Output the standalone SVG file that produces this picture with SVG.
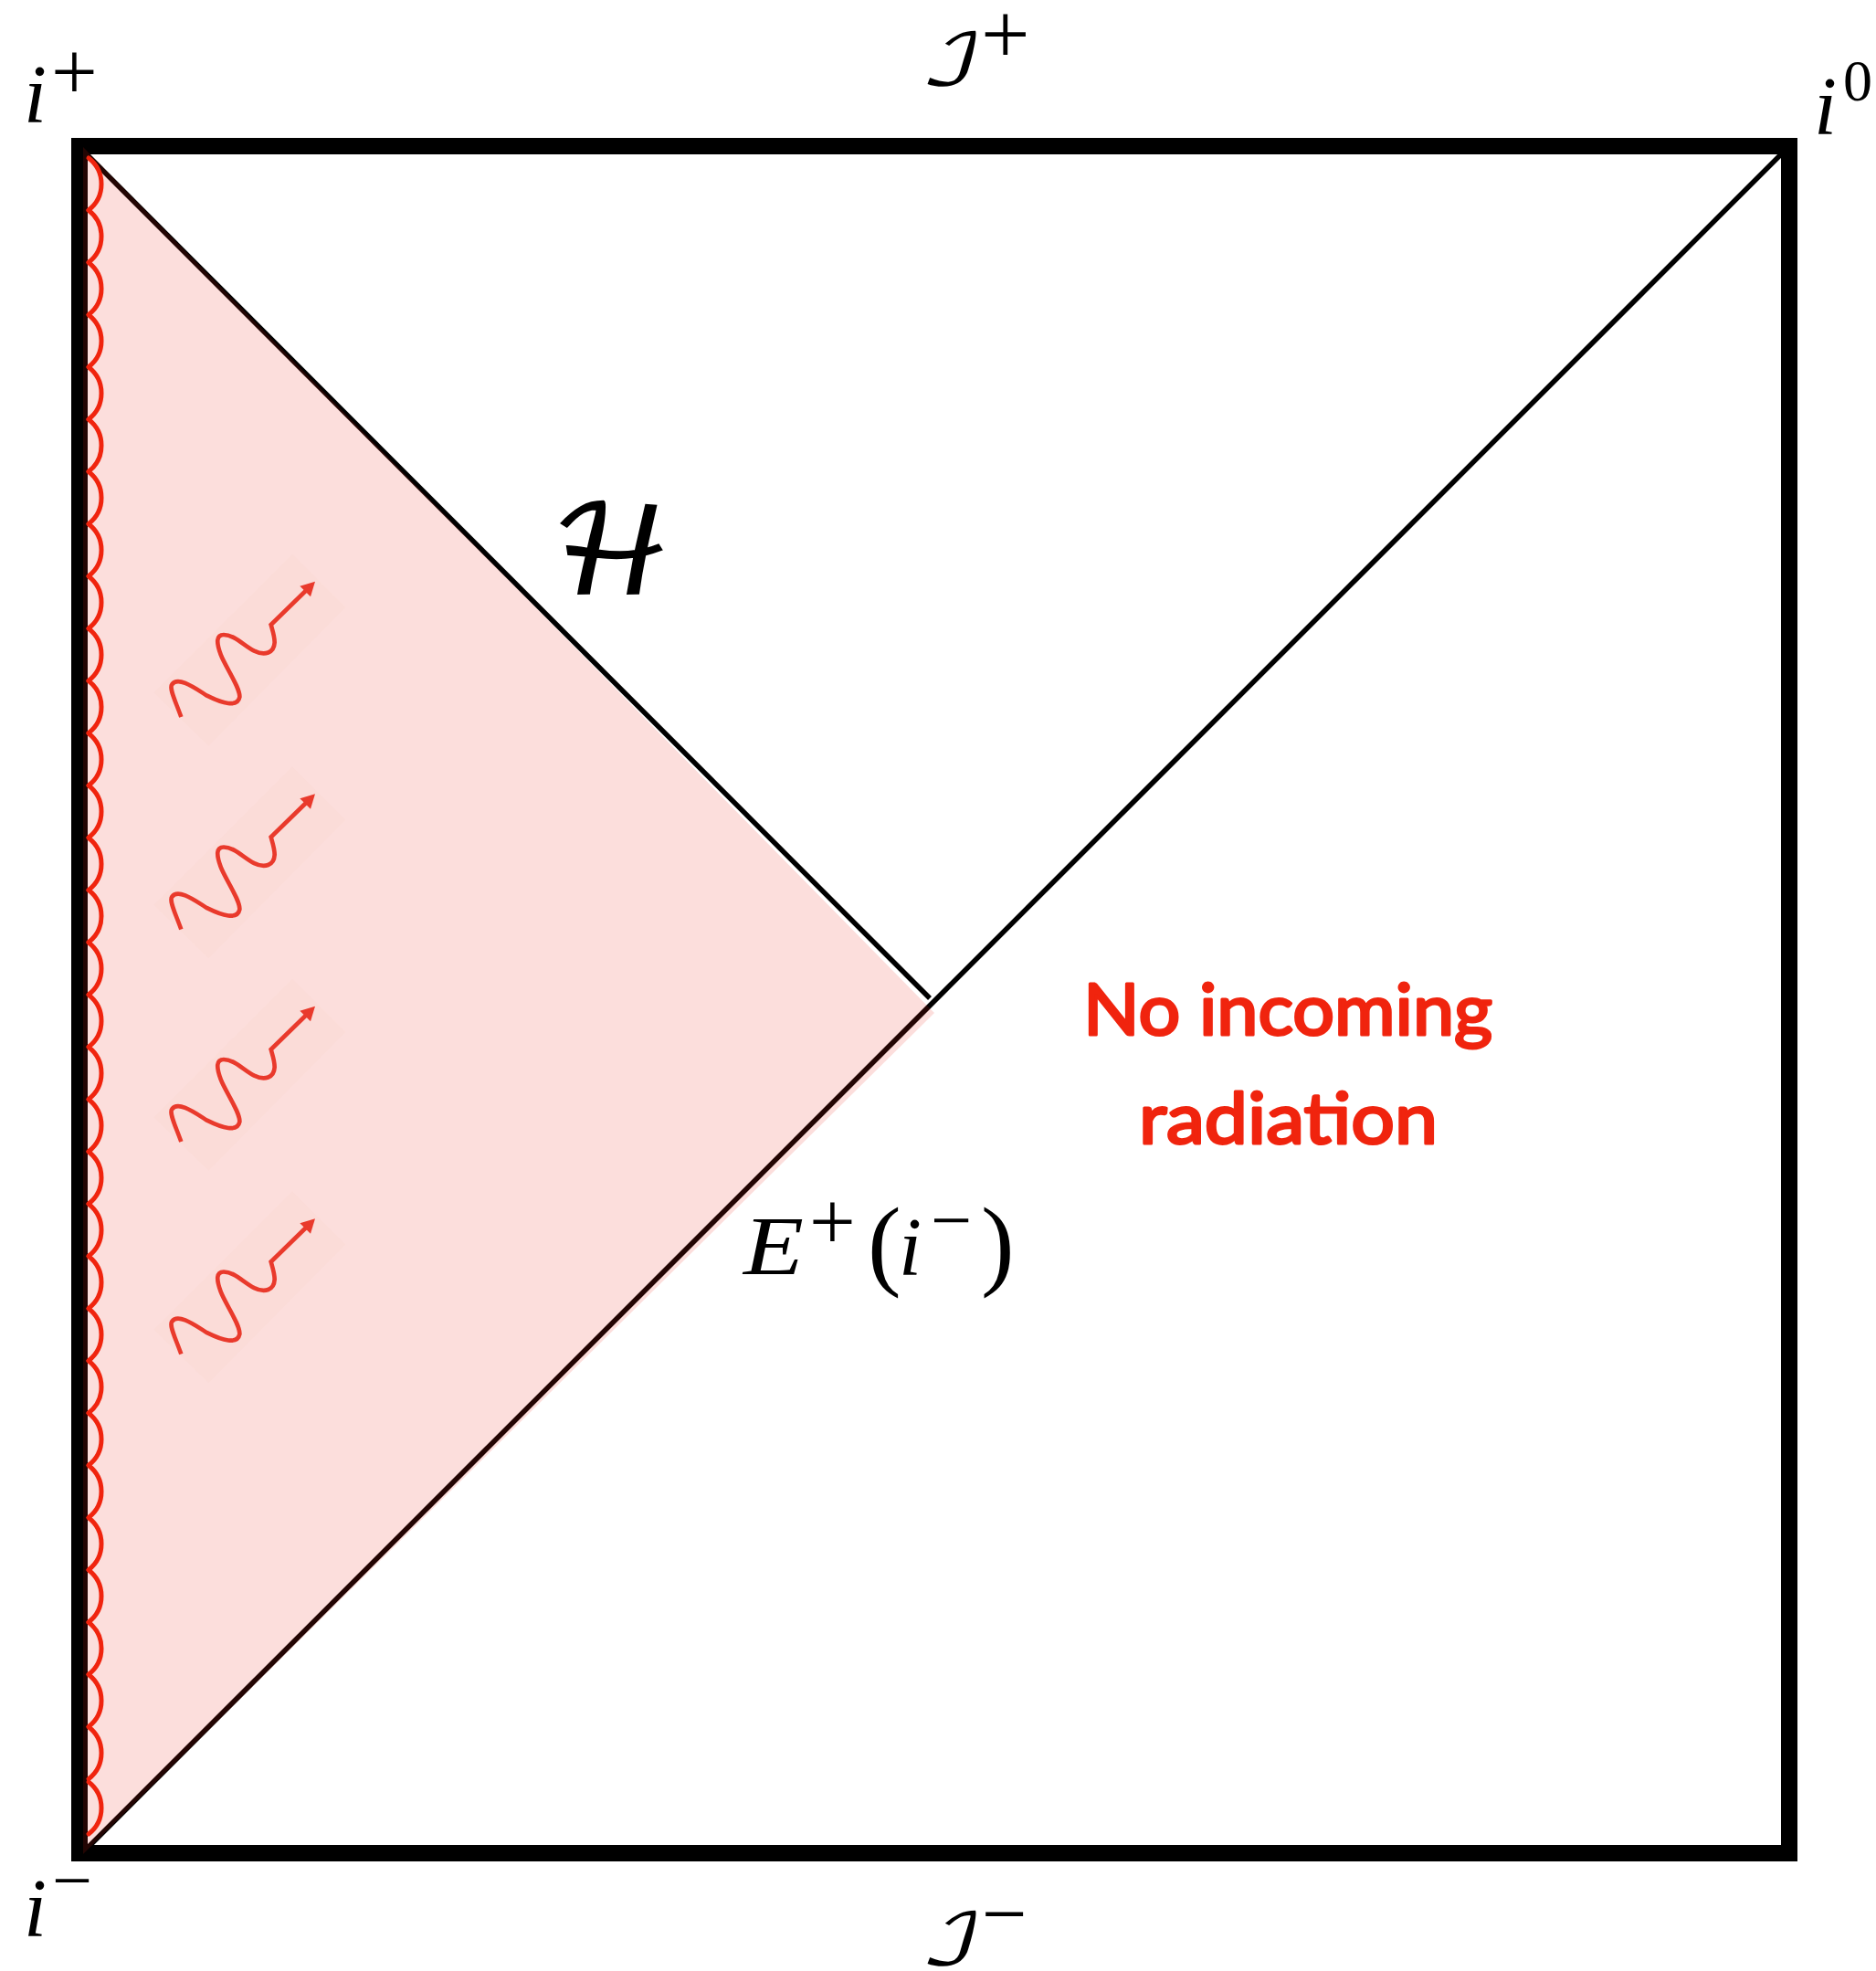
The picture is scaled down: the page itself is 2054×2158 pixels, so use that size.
<svg xmlns="http://www.w3.org/2000/svg" width="2054" height="2158" viewBox="0 0 2054 2158">
<style>
.m{font-family:"Liberation Serif","DejaVu Serif",serif;fill:#000}
.i{font-style:italic;font-size:90px}
.s{font-size:90px}
.c{font-family:"DejaVu Math TeX Gyre","DejaVu Sans","Noto Sans",sans-serif;fill:#000}
.r{font-family:"Lato","Noto Sans",sans-serif;font-size:78px;fill:#F0240E;stroke:#F0240E;stroke-width:3;stroke-linejoin:round}
.ln{fill:none;stroke:#000;stroke-width:5.5}
</style>
<defs>
<path id="arc" d="M97 0A36 36 0 0 1 97 57" fill="none" stroke="#F0240E" stroke-width="5" stroke-linecap="round"/>
<g id="wave" transform="translate(150 590) scale(.33333)">
<path d="M510 50L685 225L235 680L55 505Z" fill="#FBDCD8"/>
<path d="M145 585C125 530 105 490 115 478C135 450 190 490 230 515C280 540 330 555 337 520C340 490 290 420 275 380C260 340 260 315 285 315C320 315 350 350 385 368C420 385 450 375 452 340C452 320 445 300 440 282L560 165" fill="none" stroke="#E93A2C" stroke-width="14"/>
<path d="M585 140L535 155L570 190Z" fill="#E93A2C"/>
</g>
</defs>
<rect width="2054" height="2158" fill="#fff"/>
<g id="frame"><rect x="87" y="160" width="1872" height="1869" fill="none" stroke="#000" stroke-width="18"/></g>
<g id="connectors">
<path class="ln" d="M90 164L1018 1093"/>
<path class="ln" d="M96 2023L1955 164"/>
</g>
<g id="region"><path d="M91 161L1023 1109L91 2030Z" fill="#EE2211" fill-opacity=".15"/></g>
<g id="scallops">
<use href="#arc" y="173"/><use href="#arc" y="230.3"/><use href="#arc" y="287.5"/><use href="#arc" y="344.8"/><use href="#arc" y="402"/><use href="#arc" y="459.3"/><use href="#arc" y="516.6"/><use href="#arc" y="573.8"/><use href="#arc" y="631.1"/><use href="#arc" y="688.3"/><use href="#arc" y="745.6"/><use href="#arc" y="802.9"/><use href="#arc" y="860.1"/><use href="#arc" y="917.4"/><use href="#arc" y="974.6"/><use href="#arc" y="1031.9"/><use href="#arc" y="1089.2"/><use href="#arc" y="1146.4"/><use href="#arc" y="1203.7"/><use href="#arc" y="1260.9"/><use href="#arc" y="1318.2"/><use href="#arc" y="1375.5"/><use href="#arc" y="1432.7"/><use href="#arc" y="1490"/><use href="#arc" y="1547.2"/><use href="#arc" y="1604.5"/><use href="#arc" y="1661.8"/><use href="#arc" y="1719"/><use href="#arc" y="1776.3"/><use href="#arc" y="1833.5"/><use href="#arc" y="1890.8"/><use href="#arc" y="1951"/>
</g>
<g id="waves">
<use href="#wave"/><use href="#wave" y="232.5"/><use href="#wave" y="465"/><use href="#wave" y="697.5"/>
</g>
<g id="label-i-plus"><text class="m i" x="26" y="134">i</text><text class="m s" x="56" y="109">+</text></g>
<g id="label-i-zero"><text class="m i" x="1986" y="147">i</text><text class="m" font-size="64" x="2018" y="110">0</text></g>
<g id="label-i-minus"><text class="m i" x="26" y="2120">i</text><text class="m" font-size="78" x="57" y="2085">−</text></g>
<g id="label-scri-plus"><text class="c" font-size="76" x="1008" y="92" textLength="68" lengthAdjust="spacingAndGlyphs">ℐ</text><text class="m" font-size="95" x="1074" y="69">+</text></g>
<g id="label-scri-minus"><text class="c" font-size="76" x="1008" y="2150" textLength="68" lengthAdjust="spacingAndGlyphs">ℐ</text><text class="m" font-size="88" x="1075" y="2125">−</text></g>
<g id="label-horizon"><text class="c" font-size="132" x="604" y="650" stroke="#000" stroke-width="2">ℋ</text></g>
<g id="label-future"><text class="m i" x="814" y="1395" textLength="66" lengthAdjust="spacingAndGlyphs">E</text><text class="m s" x="886" y="1368">+</text><text class="m" font-size="110" x="950" y="1398">(</text><text class="m i" x="984" y="1396">i</text><text class="m" font-size="80" x="1019" y="1363">−</text><text class="m" font-size="110" x="1074" y="1398">)</text></g>
<g id="label-no-incoming"><text class="r" x="1186" y="1133" textLength="448" lengthAdjust="spacingAndGlyphs">No incoming</text><text class="r" x="1247" y="1252" textLength="327" lengthAdjust="spacingAndGlyphs">radiation</text></g>
</svg>
